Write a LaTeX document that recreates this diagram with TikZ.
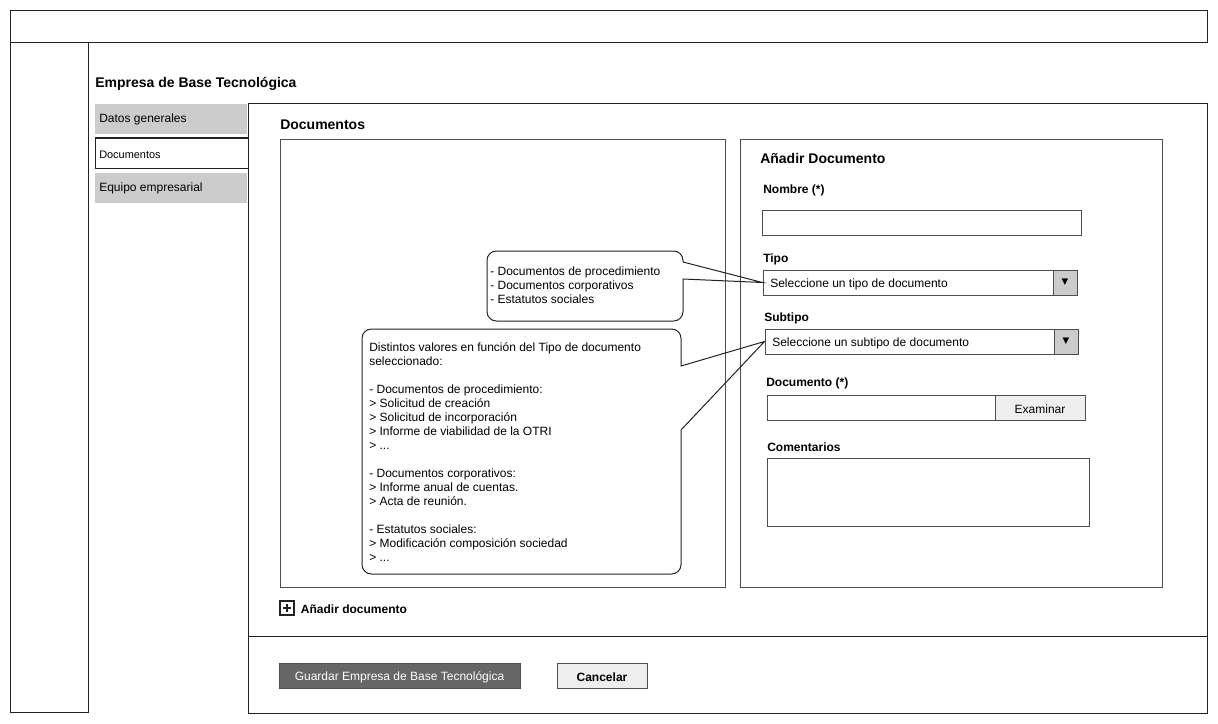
\documentclass[tikz,border=0pt]{standalone}
\usepackage{fontspec}
\setmainfont{Liberation Sans}
\newfontfamily\symfont{DejaVu Sans}
\usetikzlibrary{positioning, fit}
\definecolor{TabGray}{RGB}{204, 204, 204}
\definecolor{ButtonLight}{RGB}{238, 238, 238}
\definecolor{ButtonDark}{RGB}{102, 102, 102}
\definecolor{Ink}{RGB}{34, 34, 34}

\begin{document}
\begin{tikzpicture}[
        x=0.75pt, y=-0.75pt,
        frame/.style={draw=Ink, line width=0.75pt, inner sep=0pt},
        tab/.style={fill=TabGray, inner sep=0pt},
        field/.style={draw=Ink!80, line width=0.75pt, fill=white, inner sep=0pt},
        dropbtn/.style={draw=Ink!80, line width=0.75pt, fill=TabGray, inner sep=0pt, font=\symfont\fontsize{6.5}{7}\selectfont},
        heading/.style={anchor=west, inner sep=0pt, yshift=-1.2pt, font=\fontsize{10.5}{12}\selectfont\bfseries},
        caption/.style={anchor=west, inner sep=0pt, yshift=-1.2pt, font=\fontsize{9}{10.5}\selectfont\bfseries},
        plain/.style={anchor=west, inner sep=0pt, yshift=-1.2pt, font=\fontsize{9}{10.5}\selectfont},
        note/.style={anchor=north west, inner sep=0pt, align=left, font=\fontsize{9}{10.5}\selectfont},
        callout/.style={draw=Ink, line width=0.75pt}
    ]
        \useasboundingbox (0,0) rectangle (1218,724);

        % window frame
        \node [frame, fit={(10,11) (1207,43)}] (topbar) {};
        \node [frame, fit={(10,43) (88,712)}] (sidebar) {};
        \node [heading] (title) at (95,82) {Empresa de Base Tecnológica};

        % tabs
        \node [tab, fit={(95,104) (247,134)}] (tabdatos) {};
        \node [plain] at (99,118) {Datos generales};
        \node [tab, fit={(95,173) (247,203)}] (tabequipo) {};
        \node [plain] at (99,187) {Equipo empresarial};
        \node [frame, fit={(95,138) (248,168)}] (tabdocs) {};
        \node [plain, font=\fontsize{8.2}{10}\selectfont] at (99,153) {Documentos};

        % main panel
        \node [frame, fit={(248,104) (1207,713)}] (panel) {};
        \draw [Ink, line width=0.75pt] (panel.west |- 0,636) coordinate (sepL) -- (panel.east |- 0,636) coordinate (sepR);
        \node [heading] at (280,123) {Documentos};
        \node [frame, draw=Ink!80, fit={(280,139) (725,587)}] (listbox) {};
        \node [frame, draw=Ink!80, fit={(740,139) (1162,587)}] (formbox) {};

        % form
        \node [heading] at (760,157) {Añadir Documento};
        \node [caption] at (763,189) {Nombre (*)};
        \node [field, fit={(762,210) (1081,235)}] (nombre) {};
        \node [caption] at (763,258) {Tipo};
        \node [field, fit={(763,270) (1077,295)}] (tipo) {};
        \node [plain] at (770,282.5) {Seleccione un tipo de documento};
        \node [dropbtn, fit={(1053,270) (1077,295)}] (tipobtn) {};
        \node [inner sep=0pt, font=\symfont\fontsize{6.5}{7}\selectfont] at (tipobtn.center) {▼};
        \node [caption] at (764,317) {Subtipo};
        \node [field, fit={(765,329) (1078,354)}] (subtipo) {};
        \node [plain] at (772,341.5) {Seleccione un subtipo de documento};
        \node [dropbtn, fit={(1054,329) (1078,354)}] (subtipobtn) {};
        \node [inner sep=0pt, font=\symfont\fontsize{6.5}{7}\selectfont] at (subtipobtn.center) {▼};
        \node [caption] at (766,382) {Documento (*)};
        \node [field, fit={(767,395) (995,420)}] (fichero) {};
        \node [field, fill=ButtonLight, fit={(995,395) (1085,420)}] (examinar) {};
        \node [plain, anchor=center] at (examinar.center) {Examinar};
        \node [caption] at (767,446) {Comentarios};
        \node [field, fit={(767,458) (1089,526)}] (comentarios) {};

        % callouts
        \coordinate (c1a) at (683,279);
        \coordinate (c1b) at (683,262);
        \draw [callout] (tipo.west) -- (c1a) [rounded corners=7] -- (683,321) -- (487,321) -- (487,251) -- (683,251) [sharp corners] -- (c1b) -- cycle;
        \node [note] (note1) at (490,267) {- Documentos de procedimiento\\- Documentos corporativos\\- Estatutos sociales};

        \coordinate (c2a) at (681,430);
        \coordinate (c2b) at (681,366);
        \draw [callout] (subtipo.west) -- (c2a) [rounded corners=7] -- (681,574) -- (362,574) -- (362,329) -- (681,329) [sharp corners] -- (c2b) -- cycle;
        \node [note] (note2) at (369,342) {Distintos valores en función del Tipo de documento\\seleccionado:\\[10.5pt]- Documentos de procedimiento:\\> Solicitud de creación\\> Solicitud de incorporación\\> Informe de viabilidad de la OTRI\\> ...\\[10.5pt]- Documentos corporativos:\\> Informe anual de cuentas.\\> Acta de reunión.\\[10.5pt]- Estatutos sociales:\\> Modificación composición sociedad\\> ...};

        % add document
        \node [frame, line width=1pt, fit={(280,601) (294,615)}] (plusbox) {};
        \draw [Ink, line width=1.2pt] (plusbox.center) ++(-4,0) -- ++(8,0);
        \draw [Ink, line width=1.2pt] (plusbox.center) ++(0,-4) -- ++(0,8);
        \node [caption, right=4.5pt of plusbox.east, anchor=west] (anadir) {Añadir documento};

        % buttons
        \node [field, fill=ButtonDark, fit={(279,663) (520,688)}] (guardar) {};
        \node [plain, anchor=center, text=white] at (guardar.center) {Guardar Empresa de Base Tecnológica};
        \node [field, fill=ButtonLight, fit={(557,663) (647,688)}] (cancelar) {};
        \node [caption, anchor=center] at (cancelar.center) {Cancelar};
    \end{tikzpicture}
\end{document}
